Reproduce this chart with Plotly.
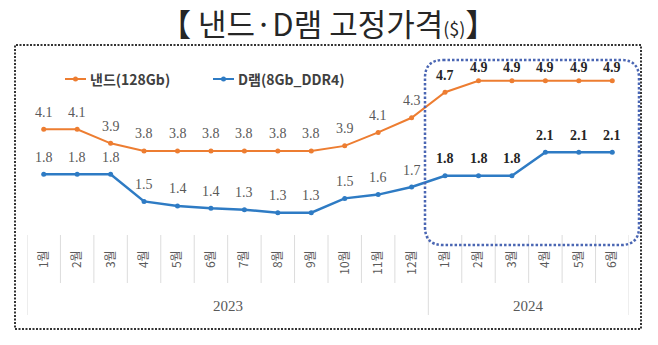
import plotly.graph_objects as go

# ---------------- data ----------------
months = ["1월", "2월", "3월", "4월", "5월", "6월", "7월", "8월", "9월", "10월", "11월", "12월",
          "1월", "2월", "3월", "4월", "5월", "6월"]
years = ["2023", "2024"]
year_counts = [12, 6]

nand_name = "낸드(128Gb)"
nand = [4.14, 4.14, 3.92, 3.80, 3.80, 3.80, 3.80, 3.80, 3.80, 3.88, 4.09, 4.32,
        4.72, 4.90, 4.90, 4.90, 4.90, 4.90]
nand_labels = ["4.1", "4.1", "3.9", "3.8", "3.8", "3.8", "3.8", "3.8", "3.8", "3.9", "4.1", "4.3",
               "4.7", "4.9", "4.9", "4.9", "4.9", "4.9"]

dram_name = "D램(8Gb_DDR4)"
dram = [1.81, 1.81, 1.81, 1.45, 1.39, 1.36, 1.34, 1.30, 1.30, 1.49, 1.54, 1.64,
        1.79, 1.79, 1.79, 2.10, 2.10, 2.10]
dram_labels = ["1.8", "1.8", "1.8", "1.5", "1.4", "1.4", "1.3", "1.3", "1.3", "1.5", "1.6", "1.7",
               "1.8", "1.8", "1.8", "2.1", "2.1", "2.1"]

title_text = "【 낸드·D램 고정가격<span style='font-size:18px'>($)</span>】"

# ---------------- styling / layout ----------------
W, H = 658, 345
L, R, T, B = 27, 29, 60, 110
PW, PH = W - L - R, H - T - B

ORANGE = "#ED7D31"
BLUE = "#2E7BC4"
GRAY = "#595959"
DARK = "#262626"
KR = "Noto Sans CJK KR"
SERIF = "Liberation Serif"

Y1_RANGE = [2.485, 5.224]
Y2_RANGE = [1.005, 3.3225]
LABEL_SHIFT = 17
LABEL_TOP_PX = 67.5   # data labels are kept inside the chart area


def px(x):
    return (x - L) / PW


def py(y):
    return 1 - (y - T) / PH


def value_to_px(v, rng):
    return T + PH * (rng[1] - v) / (rng[1] - rng[0])


xs = list(range(len(months)))
first_bold = year_counts[0]

fig = go.Figure()
fig.add_trace(go.Scatter(x=xs, y=nand, name=nand_name, mode="lines+markers",
                         line=dict(color=ORANGE, width=2), marker=dict(size=5, color=ORANGE),
                         yaxis="y", cliponaxis=False, showlegend=False))
fig.add_trace(go.Scatter(x=xs, y=dram, name=dram_name, mode="lines+markers",
                         line=dict(color=BLUE, width=2.5), marker=dict(size=5, color=BLUE),
                         yaxis="y2", cliponaxis=False, showlegend=False))

annotations = []
for series, labels, yref, rng in ((nand, nand_labels, "y", Y1_RANGE),
                                  (dram, dram_labels, "y2", Y2_RANGE)):
    for i, (v, lab) in enumerate(zip(series, labels)):
        bold = i >= first_bold
        shift = min(LABEL_SHIFT, value_to_px(v, rng) - LABEL_TOP_PX)
        annotations.append(dict(
            x=i, y=v, xref="x", yref=yref, text=lab, showarrow=False, yshift=shift,
            yanchor="middle",
            font=dict(family=SERIF, size=14, color=DARK if bold else GRAY,
                      weight="bold" if bold else "normal")))

# year labels
start = 0
for yr, cnt in zip(years, year_counts):
    annotations.append(dict(x=start + (cnt - 1) / 2, xref="x", y=py(306), yref="paper",
                            text=yr, showarrow=False, yanchor="middle",
                            font=dict(family=SERIF, size=15, color=GRAY)))
    start += cnt

# title
annotations.append(dict(x=px(328), y=py(22), xref="paper", yref="paper", text=title_text,
                        showarrow=False, xanchor="center", yanchor="middle",
                        font=dict(family=KR, size=31, color=DARK)))

# manual legend
shapes = []
legend_items = [(nand_name, ORANGE, 65), (dram_name, BLUE, 213)]
for name, col, x0 in legend_items:
    shapes.append(dict(type="line", xref="paper", yref="paper",
                       x0=px(x0), x1=px(x0 + 21), y0=py(79), y1=py(79),
                       line=dict(color=col, width=2)))
    shapes.append(dict(type="circle", xref="paper", yref="paper",
                       x0=px(x0 + 8), x1=px(x0 + 13), y0=py(76.5), y1=py(81.5),
                       fillcolor=col, line=dict(width=0)))
    annotations.append(dict(x=px(x0 + 23), y=py(79), xref="paper", yref="paper",
                            xanchor="left", yanchor="middle", text=name, showarrow=False,
                            font=dict(family=KR, size=14, color="#404040", weight="bold")))

# category dividers
bounds = [0]
for c in year_counts:
    bounds.append(bounds[-1] + c)
for b in range(len(months) + 1):
    shapes.append(dict(type="line", xref="x", yref="paper", x0=b - 0.5, x1=b - 0.5,
                       y0=py(235), y1=py(315) if b in bounds else py(283),
                       line=dict(color="#dcdcdc", width=1)))

# rounded dotted highlight box around 2024
bx0, bx1, by0, by1, r = 425, 639, 60, 245, 18
path = (f"M {px(bx0 + r)},{py(by0)} L {px(bx1 - r)},{py(by0)} "
        f"Q {px(bx1)},{py(by0)} {px(bx1)},{py(by0 + r)} "
        f"L {px(bx1)},{py(by1 - r)} Q {px(bx1)},{py(by1)} {px(bx1 - r)},{py(by1)} "
        f"L {px(bx0 + r)},{py(by1)} Q {px(bx0)},{py(by1)} {px(bx0)},{py(by1 - r)} "
        f"L {px(bx0)},{py(by0 + r)} Q {px(bx0)},{py(by0)} {px(bx0 + r)},{py(by0)} Z")
shapes.append(dict(type="path", xref="paper", yref="paper", path=path,
                   line=dict(color="#4a66b3", width=2.5, dash="2.5px,2px")))

# outer dotted frame
shapes.append(dict(type="rect", xref="paper", yref="paper",
                   x0=px(15), x1=px(641), y0=py(329), y1=py(45),
                   line=dict(color="#333333", width=2, dash="2px,1.5px")))

fig.update_layout(
    width=W, height=H,
    margin=dict(l=L, r=R, t=T, b=B),
    paper_bgcolor="white", plot_bgcolor="white",
    xaxis=dict(range=[-0.5, len(months) - 0.5], tickvals=xs, ticktext=months,
               tickangle=-90, tickfont=dict(family=KR, size=12, color=GRAY),
               showgrid=False, zeroline=False, showline=False, ticks="",
               ticklabelstandoff=12, fixedrange=True),
    yaxis=dict(range=Y1_RANGE, visible=False, fixedrange=True),
    yaxis2=dict(range=Y2_RANGE, visible=False, overlaying="y", fixedrange=True),
    annotations=annotations,
    shapes=shapes,
    showlegend=False,
)

fig.write_html("out.html")
